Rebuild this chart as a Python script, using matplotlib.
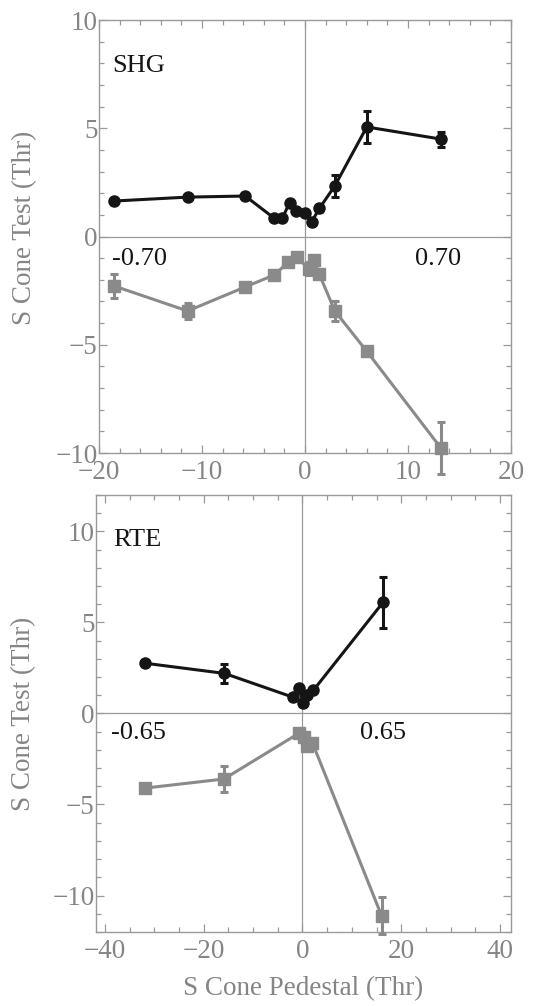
import numpy as np
import matplotlib.pyplot as plt
from matplotlib.ticker import MultipleLocator

# SHG panel data
shg_inc_x = [-18.5, -11.4, -5.8, -3.0, -2.2, -1.5, -0.9, 0.0, 0.65, 1.4, 2.9, 6.0, 13.2]
shg_inc_y = [1.64, 1.82, 1.87, 0.85, 0.85, 1.55, 1.18, 1.1, 0.68, 1.3, 2.34, 5.06, 4.5]
shg_inc_e = [0.1, 0.1, 0.15, 0.1, 0.1, 0.1, 0.1, 0.1, 0.1, 0.15, 0.5, 0.75, 0.35]

shg_dec_x = [-18.5, -11.4, -5.8, -3.0, -1.6, -0.8, 0.4, 0.9, 1.4, 2.9, 6.0, 13.2]
shg_dec_y = [-2.29, -3.44, -2.33, -1.78, -1.18, -0.95, -1.5, -1.1, -1.75, -3.44, -5.3, -9.77]
shg_dec_e = [0.55, 0.35, 0.15, 0.15, 0.1, 0.1, 0.3, 0.2, 0.15, 0.45, 0.2, 1.2]

# RTE panel data
rte_inc_x = [-31.9, -15.8, -2.0, -0.8, 0.2, 1.0, 2.2, 16.3]
rte_inc_y = [2.76, 2.2, 0.9, 1.38, 0.6, 1.0, 1.27, 6.1]
rte_inc_e = [0.15, 0.5, 0.1, 0.15, 0.1, 0.1, 0.15, 1.4]

rte_dec_x = [-31.9, -15.9, -0.8, 0.3, 1.0, 2.0, 16.0]
rte_dec_y = [-4.1, -3.6, -1.1, -1.3, -1.8, -1.6, -11.1]
rte_dec_e = [0.15, 0.7, 0.2, 0.2, 0.2, 0.2, 1.0]

dark = '#151515'
light = '#8a8a8a'
axcol = '#9a9a9a'
txtcol = '#858585'
plt.rcParams['font.family'] = ['Liberation Serif', 'DejaVu Serif']

fig = plt.figure(figsize=(5.5, 10.06), dpi=100)
ax1 = fig.add_axes([0.18, 0.5497, 0.749, 0.4304])
ax2 = fig.add_axes([0.1745, 0.0736, 0.7545, 0.4344])


def style(ax, xlim, ylim, xmaj, xmin, ymaj, ymin):
    ax.set_xlim(*xlim)
    ax.set_ylim(*ylim)
    ax.axhline(0, color=axcol, lw=0.9, zorder=1)
    ax.axvline(0, color=axcol, lw=0.9, zorder=1)
    ax.xaxis.set_major_locator(MultipleLocator(xmaj))
    ax.xaxis.set_minor_locator(MultipleLocator(xmin))
    ax.yaxis.set_major_locator(MultipleLocator(ymaj))
    ax.yaxis.set_minor_locator(MultipleLocator(ymin))
    for s in ax.spines.values():
        s.set_color(axcol)
        s.set_linewidth(1.0)
    ax.tick_params(which='both', direction='in', top=True, right=True,
                   color=axcol, width=0.9)
    ax.tick_params(which='major', length=6, labelsize=19.5, labelcolor=txtcol)
    ax.tick_params(which='minor', length=3.5)
    ax.tick_params(axis='x', which='major', pad=5)
    ax.tick_params(axis='y', which='major', pad=1)
    ax.set_ylabel('S Cone Test (Thr)', fontsize=19.5, color=txtcol)


def draw(ax, x, y, e, col, marker, ms):
    ax.errorbar(x, y, yerr=e, color=col, lw=2.2, marker=marker, ms=ms,
                capsize=3, capthick=2.2, elinewidth=2.2, zorder=3, clip_on=False)


style(ax1, (-20, 20), (-10, 10), 10, 2, 5, 1)
draw(ax1, shg_inc_x, shg_inc_y, shg_inc_e, dark, 'o', 8)
draw(ax1, shg_dec_x, shg_dec_y, shg_dec_e, light, 's', 8.5)
ax1.text(-18.7, 7.6, 'SHG', fontsize=19, color=dark, va='baseline')
ax1.text(-18.7, -1.32, '-0.70', fontsize=19, color=dark, va='baseline')
ax1.text(10.7, -1.32, '0.70', fontsize=19, color=dark, va='baseline')
ax1.yaxis.set_label_coords(-0.15, 0.52)

style(ax2, (-41.8, 42.2), (-12, 12), 20, 5, 5, 1)
draw(ax2, rte_inc_x, rte_inc_y, rte_inc_e, dark, 'o', 8)
draw(ax2, rte_dec_x, rte_dec_y, rte_dec_e, light, 's', 8.5)
ax2.text(-38.4, 9.17, 'RTE', fontsize=19, color=dark, va='baseline')
ax2.text(-38.8, -1.38, '-0.65', fontsize=19, color=dark, va='baseline')
ax2.text(11.7, -1.38, '0.65', fontsize=19, color=dark, va='baseline')
ax2.yaxis.set_label_coords(-0.145, 0.5)
ax2.set_xlabel('S Cone Pedestal (Thr)', fontsize=19.5, color=txtcol, labelpad=9)

fig.savefig('out.png', dpi=100)
